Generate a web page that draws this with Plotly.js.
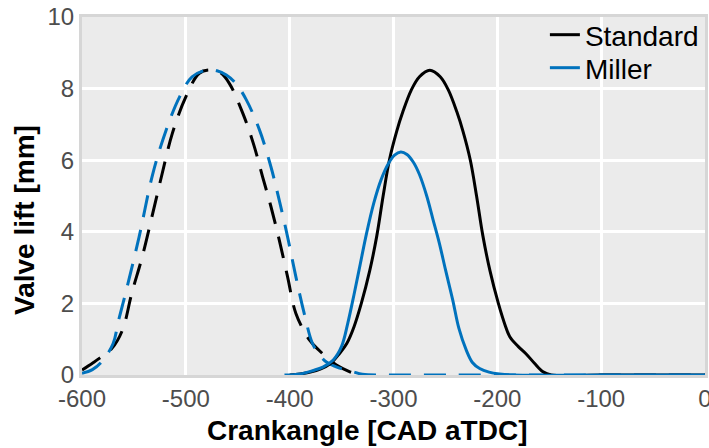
<!DOCTYPE html>
<html>
<head>
<meta charset="utf-8">
<script src="https://cdn.plot.ly/plotly-3.0.1.min.js"></script>
<style>
  html, body { margin: 0; padding: 0; background: #ffffff; }
  #chart { width: 709px; height: 448px; }
</style>
</head>
<body>
<div id="chart"></div>
<script>
// Valve lift curves over crank angle: dashed = first event, solid = second event.
const standardDashX = [-600, -590, -583, -571, -561, -552, -542, -532, -523, -513, -500, -487, -477, -467, -458, -445, -435, -426, -418, -410, -402, -394, -381, -372, -365, -355, -342, -333];
const standardDashY = [0.14, 0.33, 0.47, 0.75, 1.26, 2.29, 3.3, 4.5, 5.6, 6.75, 7.77, 8.43, 8.52, 8.45, 8.14, 7.3, 6.47, 5.53, 4.7, 3.77, 2.74, 1.72, 0.98, 0.7, 0.51, 0.28, 0.09, 0];

const millerDashX = [-600, -590, -581, -570, -565, -558, -545, -532, -519, -506, -494, -480, -470, -461, -452, -442, -429, -418, -410, -402, -394, -386, -378, -371, -365, -358, -352, -345, -339, -330, -300, -250, -150, 0];
const millerDashY = [0.05, 0.15, 0.37, 0.88, 1.5, 2.29, 3.86, 5.6, 6.84, 7.77, 8.33, 8.52, 8.5, 8.38, 8.15, 7.7, 6.84, 5.81, 4.88, 3.86, 2.74, 1.72, 0.88, 0.55, 0.37, 0.26, 0.19, 0.13, 0.09, 0.02, 0, 0, 0, 0];

const standardX = [-400, -390, -380, -370, -361, -352, -345, -338, -331, -323, -316, -310, -304, -297, -291, -283, -275, -265, -255, -247, -239, -233, -226, -220, -214, -207, -199, -192, -188, -180, -172, -164, -156, -148, -100, -50, 0];
const standardY = [0, 0.03, 0.08, 0.17, 0.31, 0.6, 0.88, 1.35, 2.0, 2.9, 3.9, 5.0, 6.0, 6.8, 7.35, 7.95, 8.33, 8.51, 8.33, 7.95, 7.35, 6.8, 6.0, 5.0, 3.9, 2.9, 2.0, 1.35, 1.07, 0.8, 0.58, 0.32, 0.09, 0, 0, 0, 0];

const millerX = [-405, -390, -378, -368, -358, -350, -344, -338, -332, -326, -319, -312, -305, -299, -293, -287, -281, -275, -268, -262, -256, -250, -243, -237, -230, -224, -217, -208, -198, -185, -100, 0];
const millerY = [0, 0.03, 0.12, 0.22, 0.42, 0.8, 1.45, 2.25, 3.1, 3.95, 4.8, 5.45, 5.9, 6.14, 6.23, 6.16, 5.95, 5.6, 5.0, 4.35, 3.7, 2.95, 2.1, 1.3, 0.7, 0.35, 0.18, 0.08, 0.03, 0, 0, 0];

const xTicks = [-600, -500, -400, -300, -200, -100, 0];
const yTicks = [0, 2, 4, 6, 8, 10];

const black = '#000000';
const blue = '#0072bd';
const dash = '22px,13px';
const fontFamily = '"Liberation Sans", Arial, sans-serif';
const smooth = 1.0;

const traces = [
  { x: standardDashX, y: standardDashY, mode: 'lines', showlegend: false, hoverinfo: 'skip',
    line: { color: black, width: 3, dash: dash, shape: 'spline', smoothing: smooth } },
  { x: millerDashX, y: millerDashY, mode: 'lines', showlegend: false, hoverinfo: 'skip',
    line: { color: blue, width: 3, dash: dash, shape: 'spline', smoothing: smooth } },
  { x: standardX, y: standardY, mode: 'lines', name: 'Standard', legend: 'legend',
    line: { color: black, width: 3, shape: 'spline', smoothing: smooth } },
  { x: millerX, y: millerY, mode: 'lines', name: 'Miller', legend: 'legend2',
    line: { color: blue, width: 3, shape: 'spline', smoothing: smooth } }
];

const axisCommon = {
  showgrid: true, gridcolor: '#ffffff', gridwidth: 3,
  zeroline: false,
  showline: true, linecolor: '#d6d6d6', linewidth: 3, mirror: true,
  layer: 'below traces',
  ticks: '',
  ticklabeloverflow: 'allow',
  tickfont: { family: fontFamily, size: 24, color: '#4d4d4d' }
};

const legendCommon = {
  xanchor: 'left', yanchor: 'top',
  bgcolor: 'rgba(0,0,0,0)', borderwidth: 0,
  font: { family: fontFamily, size: 28, color: '#000000' }
};

const titleFont = { family: fontFamily, size: 28, color: '#000000', weight: 'bold' };

const layout = {
  width: 709, height: 448,
  margin: { l: 82, r: 4, t: 17, b: 73 },
  paper_bgcolor: '#ffffff',
  plot_bgcolor: '#ebebeb',
  font: { family: fontFamily },
  showlegend: true,
  legend: Object.assign({}, legendCommon, { x: 0.743, y: 1.0196 }),
  legend2: Object.assign({}, legendCommon, { x: 0.743, y: 0.9274 }),
  xaxis: Object.assign({}, axisCommon, {
    range: [-600, 0], tickvals: xTicks, ticktext: xTicks.map(String)
  }),
  yaxis: Object.assign({}, axisCommon, {
    range: [0, 10], tickvals: yTicks, ticktext: yTicks.map(String)
  }),
  annotations: [
    { text: 'Crankangle [CAD aTDC]', xref: 'paper', yref: 'paper',
      x: 0.4575, y: -0.155, xanchor: 'center', yanchor: 'middle',
      showarrow: false, font: titleFont },
    { text: 'Valve lift [mm]', xref: 'paper', yref: 'paper',
      x: -0.0915, y: 0.433, xanchor: 'center', yanchor: 'middle',
      textangle: -90, showarrow: false, font: titleFont }
  ]
};

Plotly.newPlot('chart', traces, layout, { staticPlot: true, displayModeBar: false });
</script>
</body>
</html>
